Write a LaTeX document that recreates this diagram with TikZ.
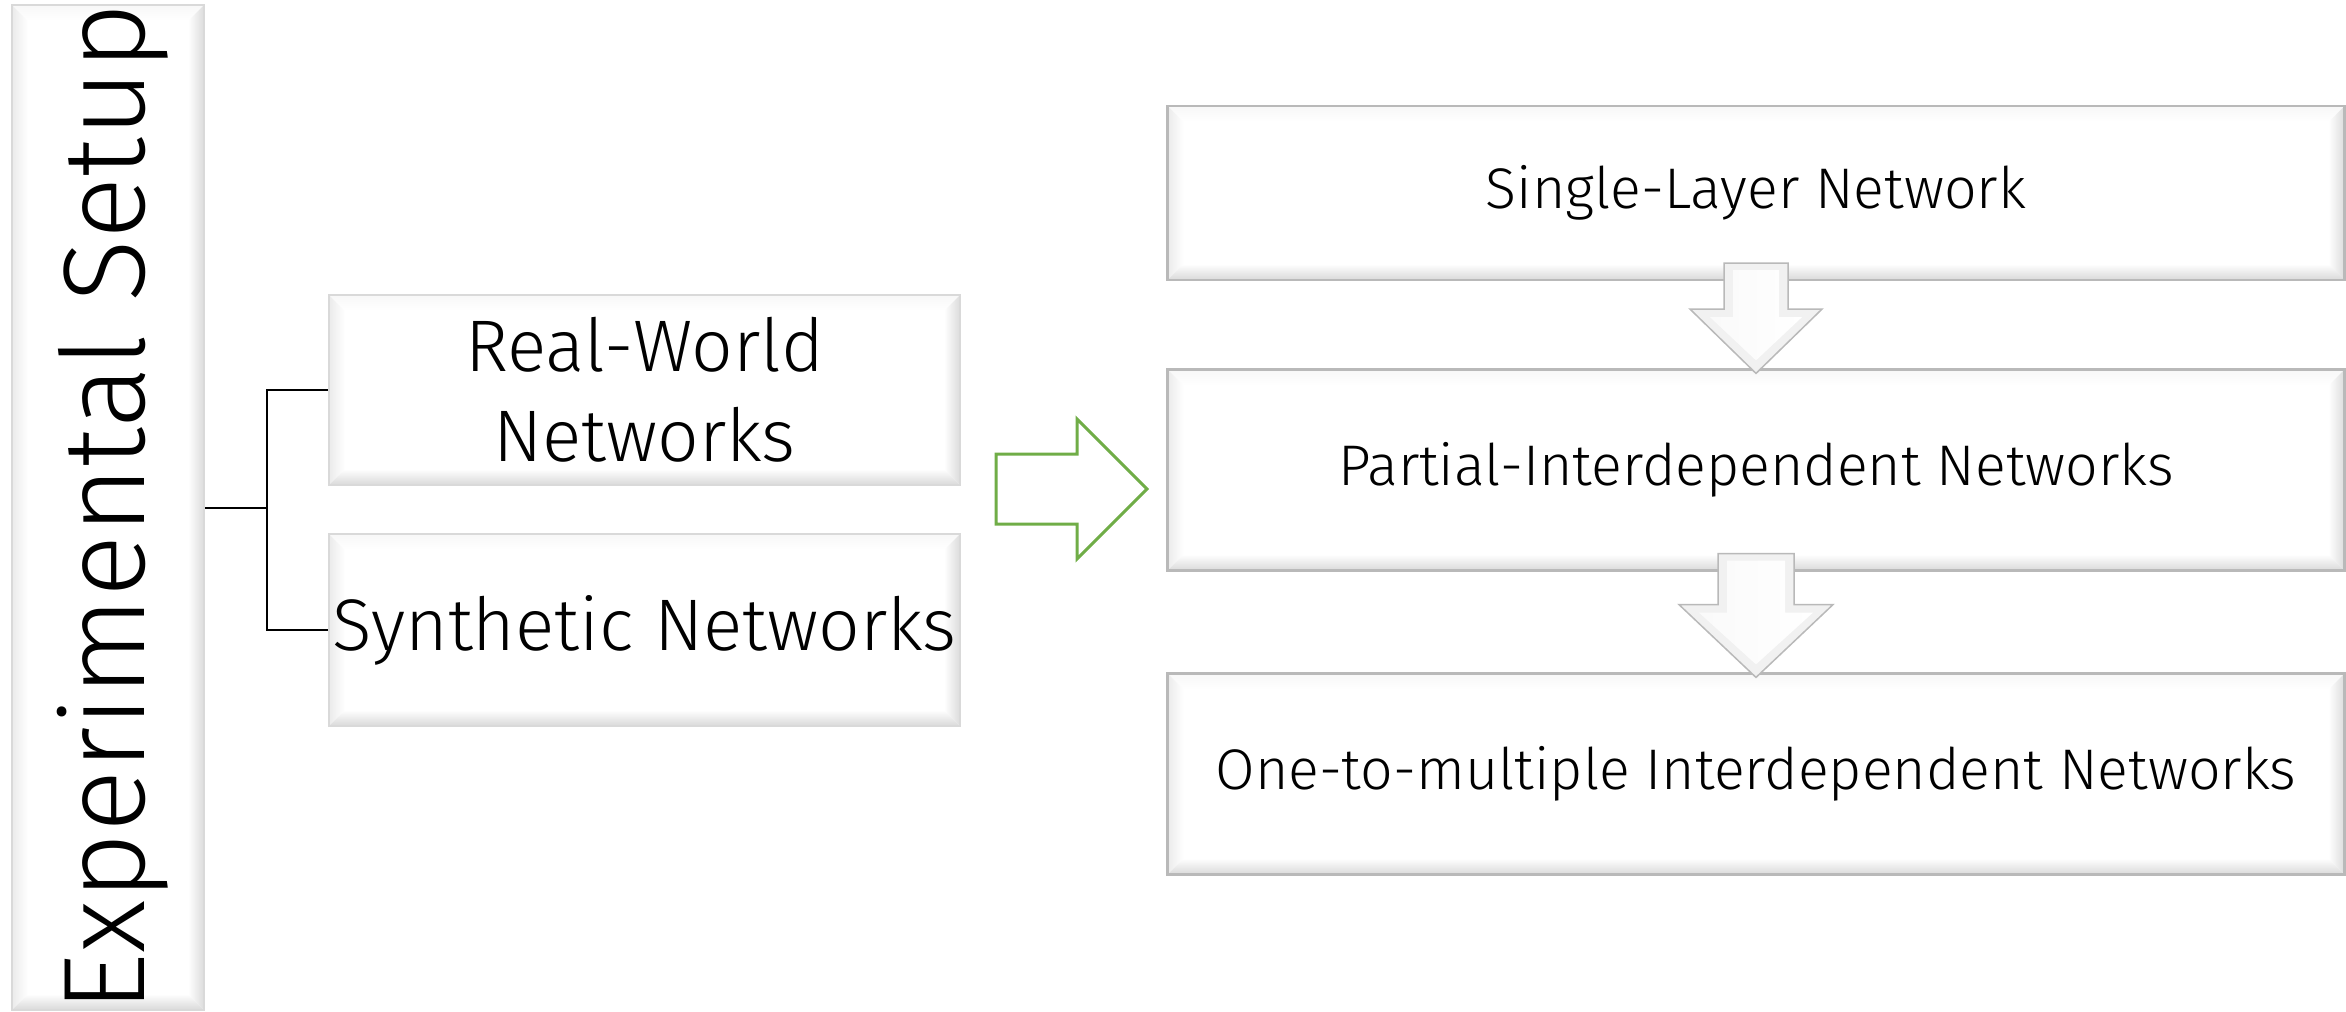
\documentclass[tikz,border=0pt]{standalone}
\usepackage{fontspec}
\setmainfont{Fira Sans}[UprightFont={* Light}]
\usetikzlibrary{calc}

% white box with a soft bevelled rim
\tikzset{
  bevelbox/.style={
    draw=#1, line width=0.22mm, fill=white, inner sep=0pt, align=center,
    path picture={
      \coordinate (nw) at (path picture bounding box.north west);
      \coordinate (ne) at (path picture bounding box.north east);
      \coordinate (sw) at (path picture bounding box.south west);
      \coordinate (se) at (path picture bounding box.south east);
      \shade[top color=gray!6, bottom color=white]
        (nw) -- (ne) -- ($(ne)+(-1.6mm,-1.6mm)$) -- ($(nw)+(1.6mm,-1.6mm)$) -- cycle;
      \shade[left color=gray!16, right color=white]
        (nw) -- ($(nw)+(1.6mm,-1.6mm)$) -- ($(sw)+(1.6mm,1.6mm)$) -- (sw) -- cycle;
      \shade[left color=white, right color=gray!28]
        (ne) -- ($(ne)+(-1.6mm,-1.6mm)$) -- ($(se)+(-1.6mm,1.6mm)$) -- (se) -- cycle;
      \shade[top color=white, bottom color=gray!30]
        (sw) -- ($(sw)+(1.6mm,1.6mm)$) -- ($(se)+(-1.6mm,1.6mm)$) -- (se) -- cycle;
    }
  },
  bevelbox/.default=gray!55,
  link/.style={draw=black, line width=0.2mm},
  greenarrow/.style={draw={rgb,255:red,112;green,173;blue,71}, fill=white, line width=0.3mm, line join=miter},
  arrowrim/.style={draw=gray!55, line width=0.15mm, fill=gray!11},
  arrowcore/.style={left color=gray!4, right color=white, draw=none},
  rightfont/.style={font=\fontsize{16.3}{20}\selectfont},
  leftfont/.style={font=\fontsize{20.8}{25.6}\selectfont},
}

% bevelled block arrow pointing down from node #1 to node #2
% #3 shaft half width, #4 head half width, #5 shaft start above #1, #6 head base below #1
\newcommand\dnarrow[6]{%
  \path[arrowrim]
    ($(#1.south)+(-#3,-#5)$) -- ($(#1.south)+(#3,-#5)$) --
    ($(#1.south)+(#3,#6)$) -- ($(#1.south)+(#4,#6)$) --
    ($(#2.north)+(0,5)$) -- ($(#1.south)+(-#4,#6)$) --
    ($(#1.south)+(-#3,#6)$) -- cycle;
  \shade[arrowcore]
    ($(#1.south)+(-#3+9,-#5+7)$) -- ($(#1.south)+(#3-9,-#5+7)$) --
    ($(#1.south)+(#3-9,#6+8)$) -- ($(#1.south)+(#4-20,#6+8)$) --
    ($(#2.north)+(0,-8)$) -- ($(#1.south)+(-#4+20,#6+8)$) --
    ($(#1.south)+(-#3+9,#6+8)$) -- cycle;
}

\begin{document}
\begin{tikzpicture}[x=0.1mm, y=-0.1mm]
\useasboundingbox (0,0) rectangle (2346,1012);

% left column: the topic
\node[bevelbox=gray!30, minimum width=19.2mm, minimum height=100.5mm] (exp) at (108,507.5) {};
\node[rotate=90, anchor=base, font=\fontsize{33}{40}\selectfont] (exptext) at (145,508) {Experimental Setup};

% middle column: the two kinds of data
\node[bevelbox=gray!30, leftfont, minimum width=63.1mm, minimum height=19mm] (real) at (644.5,390) {Real-World\\Networks};
\node[bevelbox=gray!30, leftfont, minimum width=63.1mm, minimum height=19.2mm] (syn) at (644.5,630) {Synthetic Networks};

% bracket joining the topic to both kinds
\draw[link] (exp.east) -- ++(62,0) coordinate (j);
\draw[link] (j) |- (real.west);
\draw[link] (j) |- (syn.west);

% green block arrow to the sequence of network models
\draw[greenarrow] (996,454) -- (1077,454) -- (1077,419) -- (1147,489) -- (1077,559) -- (1077,524) -- (996,524) -- cycle;

% right column: the network models
\node[bevelbox, rightfont, minimum width=117.7mm, minimum height=17.4mm] (s1) at (1756,193) {Single-Layer Network};
\node[bevelbox, rightfont, minimum width=117.7mm, minimum height=20.1mm] (s2) at (1756,470) {Partial-Interdependent Networks};
\node[bevelbox, rightfont, minimum width=117.7mm, minimum height=20.1mm] (s3) at (1756,774) {One-to-multiple Interdependent Networks};

\dnarrow{s1}{s2}{32}{66}{18}{28}
\dnarrow{s2}{s3}{38}{77}{18}{33}
\end{tikzpicture}
\end{document}
